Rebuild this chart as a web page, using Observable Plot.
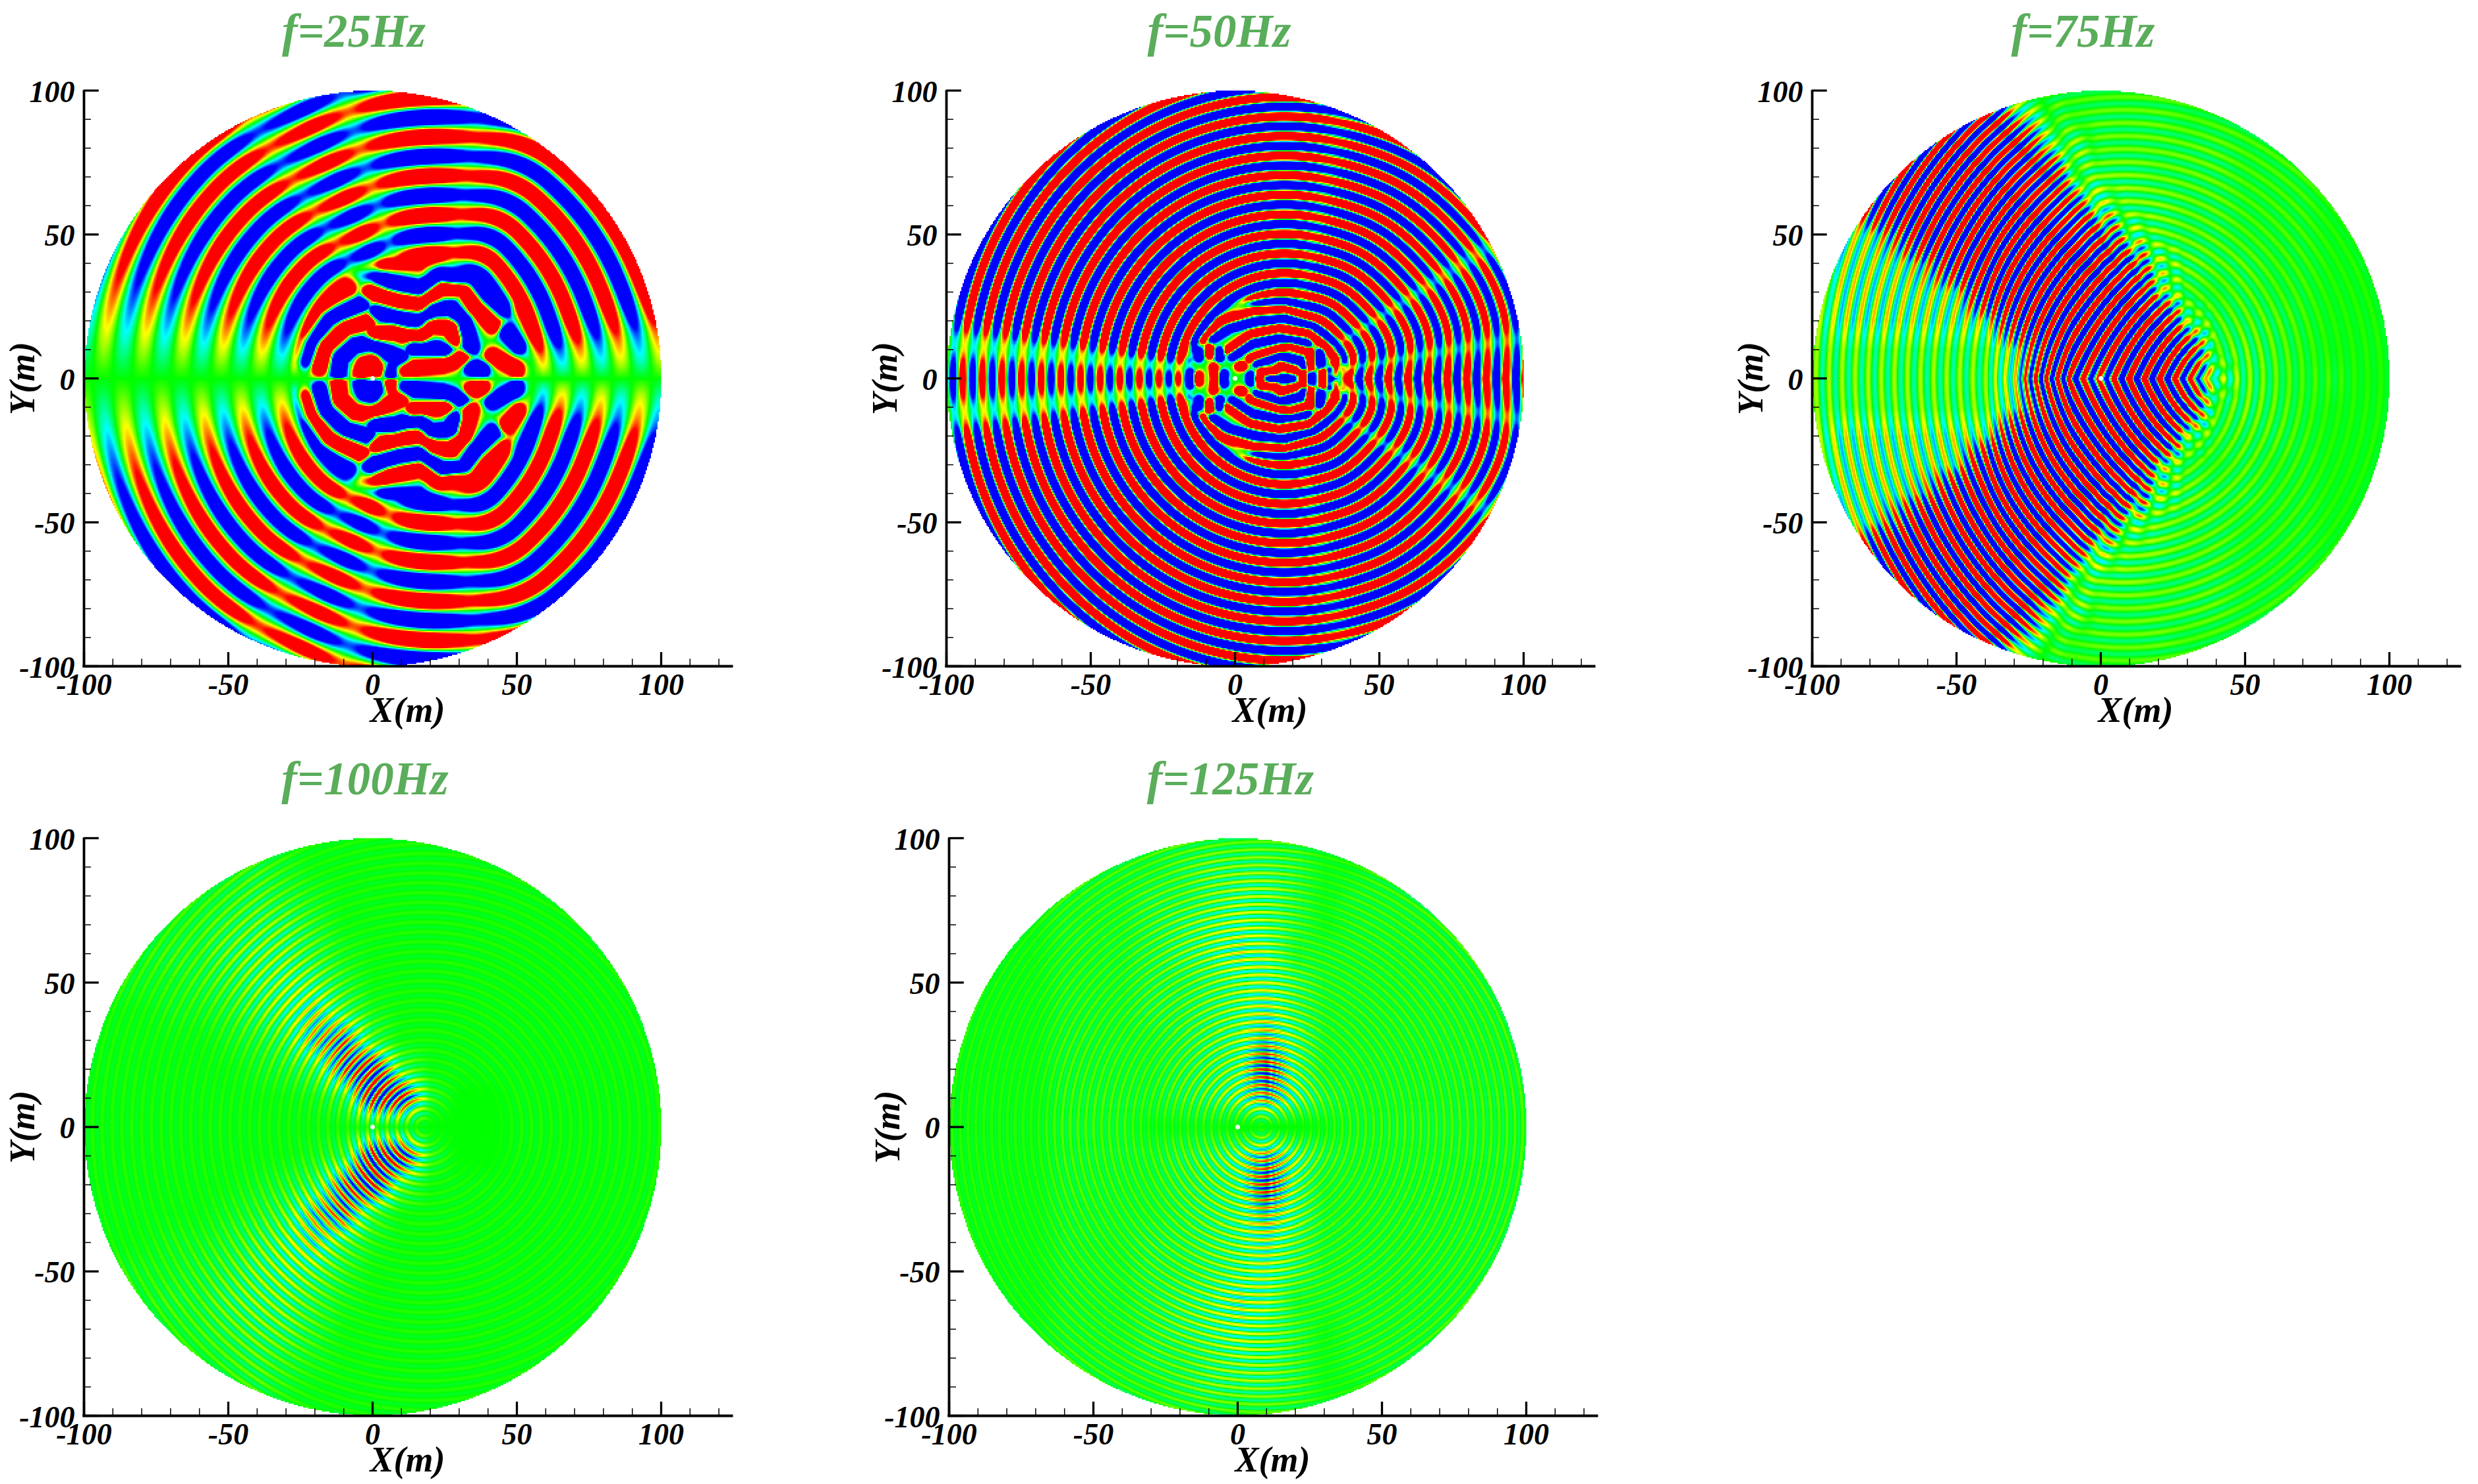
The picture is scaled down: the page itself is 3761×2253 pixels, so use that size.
<!DOCTYPE html>
<html><head><meta charset="utf-8">
<script src="https://cdn.jsdelivr.net/npm/d3@7"></script>
<script src="https://cdn.jsdelivr.net/npm/@observablehq/plot@0.6"></script>
<style>html,body{margin:0;background:#fff;overflow:hidden}#page{position:relative;width:3761px;height:2253px;background:#fff}#page svg{position:absolute;background:transparent;overflow:visible}</style>
</head><body><div id="page"></div>
<script>
// Tick values and titles
const majorTicks = [-100,-50,0,50,100];
const minorTicksX = [-90,-80,-70,-60,-40,-30,-20,-10,10,20,30,40,60,70,80,90,110,120];
const minorTicksY = [-90,-80,-70,-60,-40,-30,-20,-10,10,20,30,40,60,70,80,90];
const titles = ["f=25Hz","f=50Hz","f=75Hz","f=100Hz","f=125Hz"];

// Wavelengths (m) measured from band spacing
const wavelengths = [13.6,6.8,4.53,3.4,2.72];

// 25 Hz: polar readings about (20,0), upper half (lower half is the sign-flipped mirror)
const bearings25 = [0,5,12,23,39,55,67,80,90,97,107,115,125,131,147,164,172,180];
const amp25      = [0,.4,.8,2,2.4,2.4,2.4,1.2,2.8,2.4,.7,1.9,.8,1.8,1.9,.9,.45,0];
const shift25    = [-4,-4,-4,-4.3,-2,1.3,4.6,1,0,0,-.5,-1.2,0,1.7,2.5,2.5,2.5,2.5];
// 25 Hz inner zone: traced crests [sign, x,y, x,y, ...]
const ridges25 = [
 [1,-4,2,-3,5,0,6,1,3],
 [-1,-12,2,-11.6,7,-6.3,11.6,-1,12.4,4.3,9.4,9.7,7,6.6,1.7],
 [1,-18.5,4,-16,11.6,-9.4,17.7,-1.7,20],
 [-1,-24,6.3,-22,12.4,-15.4,20.8,-4,26],
 [1,-29,5.5,-27,14,-20,24.6,-8.6,31.4],
 [-1,-35,11.6,-33,17.7,-26,29,-12.4,37.5],
 [1,-42,11.6,-39,19,-30,34.5,-18.5,43],
 [1,.5,15.4,7.4,16.2,12,14.7,16.5,14.7,19.6,18.5,27,17.7,28,14],
 [-1,14.2,10.9,24.9,10.1],
 [1,9.7,3.3,15.8,4,24,4.8,31,7],
 [-1,34,4,37.8,3.3],
 [-1,1.3,23,10.4,20.8,16.5,20,21,23.8,27,24.6,31.7,20,34,10.9],
 [1,-1,30,9,26.9,16.5,26,23.4,31.4,31.7,31.4,35.5,24.6,41.6,18.5],
 [1,41.6,7.8,50,3.3],
 [-1,-8.6,37.5,0,36.8,5.9,33.7,16.5,31.4,23.4,36,34.8,33.7,45.4,24.6],
 [-1,46.5,16,50.5,11.5],
 [1,4.3,40.6,16.5,39.8,27,44.4],
 [1,50,24.6,56.9,15.4]
];

// 50 Hz: polar readings about (17,0), mirrored in y
const bearings50 = [0,5,10,15,28,33,38,60,72,78,84,90,130,168,171,174,177,180];
const amp50      = [2.4,1.6,.6,2,2,.6,2,3,3,1.4,3,3,3.2,3,1.2,.25,1.2,2];
const shift50    = [-1,-.5,1,2,2,1.5,1,1,0,0,0,0,0,0,0,0,0,0];
const ridges50 = [
 [-1,12,0,19.6,0],
 [1,8.2,0,9,2.4,13.5,2.4,16,4.7,19.6,3.2,23.4,2.4,23.4,0],
 [-1,7.5,5.5,15,7.8,22.6,6.2,23.4,4],
 [1,5.2,7,15,10.4,18.9,11.6,25.7,9.3,26,4],
 [-1,26.5,0,26.5,1],
 [1,30.3,0,30.3,2],
 [-1,29.5,5,29.5,9],
 [-1,-1,7.8,5.9,12.3,15,13.9,25,12.3],
 [1,-2.4,10,5.2,15.4,15,17.7,25,16,30,12.3,35,7,34,1.7],
 [-1,-4.3,0,-4,1.5],
 [1,-7.5,3.9,-7,0],
 [1,1.4,4.3,2.5,4.3],
 [-1,5.2,0,5.2,1],
 [1,-11.4,13.9,-5.3,19.9,5.9,23.7,17.3,24.5,28.8,20.7,36.4,16,41.7,9.3],
 [-1,-7.8,13.9,-1.7,17.7,7.5,19.9,17.3,20.7,27,18.4,34.9,13,39.4,7.8],
 [-1,-14.6,13.9,-7.8,23,2.9,26.8,17.3,27.5,31,23.7,41,16],
 [1,-16.5,8.5,-16.5,10.5],
 [-1,-12.7,7.5,-12.7,9.5],
 [1,-8.9,8.5,-8.9,10.5],
 [-1,-5.5,7.5,-5.5,9.5],
 [-1,-15.8,0,-15.8,2],
 [1,-12.7,0,-12.7,1],
 [1,37.9,0,37.9,4],
 [-1,33.5,0,33.5,3],
 [-1,42,0,42,4]
];

// Amplitude maps, columns x = -100..100 step 10, rows y = 100..0 step 10, base-36 digits
const rows75wedge = [
 "000000000000000000000","000009931000000000000","000099992100000000000",
 "000999998100000000000","006999999510000000000","022499999951000000000",
 "022237999995100000000","022222799999200000000","122222269999910000000",
 "111111125999960000000","111111126739951000000"];
const rows75rings = [
 "000000002222222222222","000000002233322222111","000000002233333222111",
 "000000000244333222111","000000000044433222111","000000000244433222111",
 "000000000244443322111","000000000012332322111","000000000001233332111",
 "000000000000123432111","000000000000013432211"];
const rows100 = [
 "111111111111111111111","111112321111111111111","111123432111111111111",
 "111234553111111111111","112335664211111111111","122234676311111111111",
 "11122357a521111111111","11111235cf41111111111","111111235fk5111111111",
 "1111111124kk300111111","111111111111000111111"];
const rows125 = [
 "111122222222212222222","111122223444311222222","111122233455312222222",
 "111122234565312222222","111122234576222222222","111122233456422222222",
 "111122233457422222222","111122223459522222222","11112222345e522222222",
 "11112222346a632222222","111122211100012222222"];

// Colour stops of the rainbow map
const colorStops = [-1,-.5,0,.5,1];
const colorRange = ["#0000ff","#00ffff","#00ff00","#ffff00","#ff0000"];

const panels = [
 {title:titles[0],L:126.5,T:137,B:1011,cxT:536,
  comps:[{cx:20,lambda:wavelengths[0],r0:97.5,bearings:bearings25,amp:amp25,shift:shift25}],
  antisym:true,ridges:ridges25,ridgeSigma:2.8,mask:[15,36,44]},
 {title:titles[1],L:1436,T:137,B:1011,cxT:1850,
  comps:[{cx:17,lambda:wavelengths[1],r0:36.7,bearings:bearings50,amp:amp50,shift:shift50}],
  ridges:ridges50,ridgeSigma:1.6,mask:[10,24,30]},
 {title:titles[2],L:2750,T:137,B:1011,cxT:3161,
  comps:[{cx:42,lambda:wavelengths[2],r0:27.6,rows:rows75wedge,scale:1/3,chevron:.5},
         {cx:8,lambda:wavelengths[2],r0:30,rows:rows75rings,scale:.08}]},
 {title:titles[3],L:126.5,T:1272,B:2149,cxT:553,
  comps:[{cx:18,lambda:wavelengths[3],r0:20,rows:rows100,scale:.07}]},
 {title:titles[4],L:1440,T:1272,B:2149,cxT:1867,
  comps:[{cx:8,lambda:wavelengths[4],r0:20,rows:rows125,scale:.09}]}
];

const rasterW = 438, rasterH = 437;

function lookup(xs, ys, v){
  let i = d3.bisectRight(xs, v) - 1;
  i = Math.max(0, Math.min(xs.length-2, i));
  const t = (v-xs[i])/(xs[i+1]-xs[i]);
  return ys[i]*(1-t)+ys[i+1]*t;
}
// one-degree rendering table with the kinks between the read knots rounded off
function smoothTable(xs, ys, half){
  const out=[];
  for(let d=0;d<=180;d++){
    let s=0,n=0;
    for(let k=-half;k<=half;k+=.5){ s+=lookup(xs,ys,Math.max(0,Math.min(180,d+k))); n++; }
    out.push(s/n);
  }
  return out;
}
function tableAt(t,th){ const i=Math.min(179,Math.floor(th)), u=th-i; return t[i]*(1-u)+t[i+1]*u; }
function gridAmp(c, x, ay){
  const gx = Math.max(0,Math.min(19.999,(x+100)/10));
  const gy = Math.max(0,Math.min(9.999,(100-ay)/10));
  const i = Math.floor(gx), j = Math.floor(gy), u = gx-i, v = gy-j;
  const g = c.grid;
  return (g[j][i]*(1-u)+g[j][i+1]*u)*(1-v)+(g[j+1][i]*(1-u)+g[j+1][i+1]*u)*v;
}
function prepare(p){
  for (const c of p.comps){
    if (c.rows) c.grid = c.rows.map(r=>[...r].map(ch=>parseInt(ch,36)*c.scale));
    else { c.ampT=smoothTable(c.bearings,c.amp,1.5); c.shiftT=smoothTable(c.bearings,c.shift,7); }
  }
  if (p.ridges){
    p.segs=[];
    for (const r of p.ridges) for (let k=1;k+3<r.length;k+=2) p.segs.push([r[0],r[k],r[k+1],r[k+2],r[k+3]]);
  }
}
function ridgeValue(p,x,y){
  const w=p.ridgeSigma*p.ridgeSigma;
  let pos=0,neg=0;
  for(const [sg,x1,y1,x2,y2] of p.segs){
    const dx=x2-x1,dy=y2-y1,l=dx*dx+dy*dy;
    let t=l?((x-x1)*dx+(y-y1)*dy)/l:0; t=Math.max(0,Math.min(1,t));
    const ex=x-x1-t*dx,ey=y-y1-t*dy,d=ex*ex+ey*ey,g=Math.exp(-d/w);
    if(sg>0) pos=Math.max(pos,g); else neg=Math.max(neg,g);
  }
  return 3.2*(pos-neg);
}
function field(p,x,y){
  if(x*x+y*y>1e4) return NaN;
  const ay=Math.abs(y);
  let v=0;
  for(const c of p.comps){
    const dx=x-c.cx;
    let r=Math.hypot(dx,ay);
    if(c.chevron){
      const m=c.chevron*Math.max(0,Math.min(1,(x+40)/30));
      r=(1-m)*r+m*(ay+Math.abs(dx))/Math.SQRT2;
    }
    if(c.rows){
      v+=gridAmp(c,x,ay)*Math.cos(2*Math.PI*(r-c.r0)/c.lambda);
    } else {
      const th=Math.atan2(ay,dx)*180/Math.PI;
      v+=tableAt(c.ampT,th)*Math.cos(2*Math.PI*(r-c.r0-tableAt(c.shiftT,th))/c.lambda);
    }
  }
  if(p.ridges){
    const d=Math.hypot(x-p.mask[0],ay);
    const m=Math.max(0,Math.min(1,(p.mask[2]-d)/(p.mask[2]-p.mask[1])));
    if(m>0) v=(1-m)*v+m*ridgeValue(p,x,ay);
  }
  if(p.antisym){ v*=Math.min(1,ay/.9); if(y<0) v=-v; }
  return v;
}
const serif={fontFamily:"Liberation Serif",fontWeight:"bold",fontStyle:"italic"};
const page=document.getElementById("page");
for(const p of panels){
  prepare(p);
  const values=new Array(rasterW*rasterH);
  for(let j=0;j<rasterH;j++){
    const y=100-200*(j+.5)/rasterH;
    for(let i=0;i<rasterW;i++) values[j*rasterW+i]=field(p,-100+200*(i+.5)/rasterW,y);
  }
  const mL=127,mT=137,h=p.B-p.T,mB=100;
  const svg=Plot.plot({
    width:mL+985.5+20,height:mT+h+mB,marginLeft:mL,marginTop:mT,marginRight:20,marginBottom:mB,
    x:{domain:[-100,125],axis:null},y:{domain:[-100,100],axis:null},
    color:{type:"linear",domain:colorStops,range:colorRange,clamp:true,interpolate:"rgb"},
    style:{background:"transparent"},
    marks:[
      Plot.raster(values,{width:rasterW,height:rasterH,x1:-100,x2:100,y1:100,y2:-100,imageRendering:"pixelated"}),
      Plot.dot([0],{x:d=>d,y:0,r:3.5,fill:"white"}),
      Plot.ruleX(minorTicksX,{x:d=>d,y1:-100,y2:-97.5,stroke:"black",strokeWidth:1.5}),
      Plot.ruleY(minorTicksY,{y:d=>d,x1:-100,x2:-97.5,stroke:"black",strokeWidth:1.5}),
      Plot.ruleX(majorTicks,{x:d=>d,y1:-100,y2:-95.2,stroke:"black",strokeWidth:3.3}),
      Plot.ruleY(majorTicks,{y:d=>d,x1:-100,x2:-94.8,stroke:"black",strokeWidth:3.3}),
      Plot.ruleY([-100],{x1:-100.4,x2:125,stroke:"black",strokeWidth:3.8}),
      Plot.ruleX([-100],{y1:-100.2,y2:100.1,stroke:"black",strokeWidth:3.8}),
      Plot.text(majorTicks,{x:d=>d,y:-100,dy:29,text:d=>String(d),fontSize:46,fill:"black",...serif}),
      Plot.text(majorTicks,{x:-100,y:d=>d,dx:-14,dy:2.5,text:d=>String(d),textAnchor:"end",fontSize:46,fill:"black",...serif}),
      Plot.text(["X(m)"],{x:12.1,y:-100,dy:67,text:d=>d,fontSize:54,fill:"black",...serif}),
      Plot.text(["Y(m)"],{x:-100,y:0,dx:-93,rotate:-90,text:d=>d,fontSize:54,fill:"black",...serif}),
      Plot.text([p.title],{frameAnchor:"top-left",textAnchor:"middle",dx:p.cxT-p.L,dy:-117,text:d=>d,fontSize:71,fill:"#5aad5a",...serif})
    ]
  });
  svg.style.left=(p.L-mL)+"px";
  svg.style.top=(p.T-mT)+"px";
  page.appendChild(svg);
}
</script></body></html>
